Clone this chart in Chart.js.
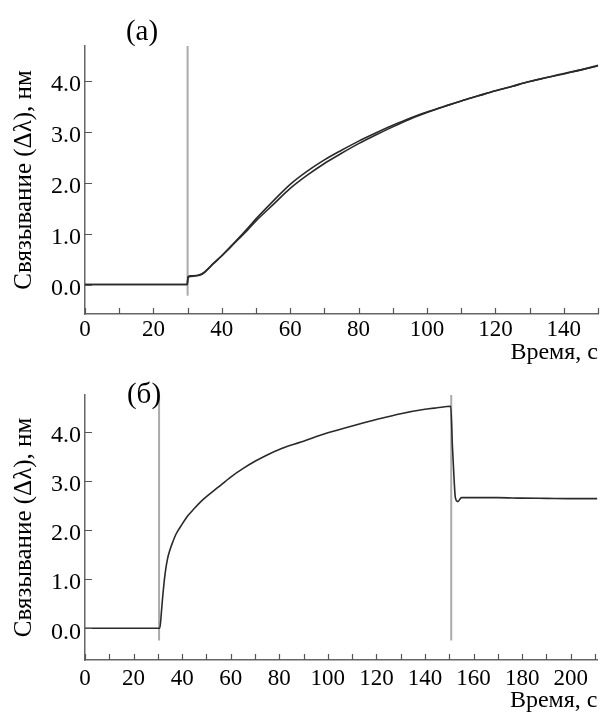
<!DOCTYPE html>
<html>
<head>
<meta charset="utf-8">
<script src="https://cdn.jsdelivr.net/npm/chart.js@4.4.1/dist/chart.umd.min.js"></script>
<style>
  body { margin: 0; background: #fff; }
  #wrap { position: relative; width: 600px; height: 716px; }
  canvas { position: absolute; left: 0; }
  #chartA { top: 0; }
  #chartB { top: 360px; }
</style>
</head>
<body>
<div id="wrap">
  <canvas id="chartA" width="600" height="372"></canvas>
  <canvas id="chartB" width="600" height="356"></canvas>
</div>
<script>
// (а) две кривые связывания
const tiempoA = [0, 29.9, 30.1, 31, 33.5, 35, 37.5, 40, 42.5, 45, 47.5, 50, 55, 60, 65, 70, 75, 80, 85, 90, 95, 100, 105, 110, 115, 120, 125, 130, 135, 140, 145, 150];
const curvaA1 = [0, 0, 0.13, 0.16, 0.18, 0.24, 0.41, 0.57, 0.74, 0.92, 1.10, 1.29, 1.64, 1.97, 2.23, 2.45, 2.64, 2.82, 2.98, 3.13, 3.27, 3.39, 3.50, 3.61, 3.71, 3.81, 3.90, 3.99, 4.07, 4.14, 4.22, 4.30];
const curvaA2 = [0, 0, 0.15, 0.17, 0.19, 0.25, 0.41, 0.56, 0.73, 0.90, 1.07, 1.25, 1.57, 1.89, 2.15, 2.38, 2.58, 2.77, 2.94, 3.10, 3.25, 3.38, 3.50, 3.61, 3.71, 3.81, 3.90, 3.99, 4.07, 4.15, 4.22, 4.31];
const marcasA = [30];

// (б) одна кривая: ассоциация и диссоциация
const tiempoB = [0, 30.8, 31.5, 32, 33, 34, 35, 36, 37.5, 40, 42.5, 45, 47.5, 50, 55, 60, 65, 70, 75, 80, 85, 90, 95, 100, 110, 120, 130, 140, 145, 150.6, 151.3, 152, 152.5, 153.5, 155, 160, 170, 180, 190, 200, 211];
const curvaB = [0, 0, 0.35, 0.65, 1.12, 1.42, 1.6, 1.74, 1.92, 2.12, 2.3, 2.44, 2.57, 2.68, 2.88, 3.08, 3.25, 3.40, 3.53, 3.64, 3.73, 3.81, 3.90, 3.98, 4.12, 4.25, 4.37, 4.46, 4.49, 4.52, 3.70, 3.02, 2.66, 2.58, 2.66, 2.66, 2.66, 2.65, 2.645, 2.64, 2.64];
const marcasB = [30.5, 150.8];

const ticksXA = [0, 10, 20, 30, 40, 50, 60, 70, 80, 90, 100, 110, 120, 130, 140, 150];
const ticksXB = [0, 10, 20, 30, 40, 50, 60, 70, 80, 90, 100, 110, 120, 130, 140, 150, 160, 170, 180, 190, 200, 210];
const ticksY = [0, 0.5, 1, 1.5, 2, 2.5, 3, 3.5, 4, 4.5];

const fuente = "'Liberation Serif', 'Times New Roman', serif";

function puntos(xs, ys) {
    return xs.map((x, i) => ({ x: x, y: ys[i] }));
}

function lineaVertical(x, y0, y1) {
    return {
        data: [{ x: x, y: y0 }, { x: x, y: y1 }],
        borderColor: '#aaaaaa',
        borderWidth: 2,
        pointRadius: 0,
        tension: 0
    };
}

function curva(xs, ys) {
    return {
        data: puntos(xs, ys),
        borderColor: '#2a2a2a',
        borderWidth: 1.6,
        pointRadius: 0,
        cubicInterpolationMode: 'monotone'
    };
}

// marcas de escala hacia dentro
const ticksInternos = {
    id: 'ticksInternos',
    afterDraw(chart) {
        const { ctx, chartArea, scales: { x, y } } = chart;
        ctx.save();
        ctx.strokeStyle = '#555';
        ctx.lineWidth = 1.2;
        ctx.beginPath();
        x.ticks.forEach(t => {
            const px = Math.round(x.getPixelForValue(t.value)) + 0.5;
            ctx.moveTo(px, chartArea.bottom);
            ctx.lineTo(px, chartArea.bottom - 6);
        });
        y.ticks.forEach(t => {
            const py = Math.round(y.getPixelForValue(t.value)) + 0.5;
            ctx.moveTo(chartArea.left, py);
            ctx.lineTo(chartArea.left + 7, py);
        });
        ctx.stroke();
        ctx.restore();
    }
};

const etiquetaPanel = {
    id: 'etiquetaPanel',
    afterDraw(chart, args, opts) {
        const ctx = chart.ctx;
        ctx.save();
        ctx.font = '29px ' + fuente;
        ctx.fillStyle = '#000';
        ctx.textAlign = 'center';
        ctx.textBaseline = 'middle';
        ctx.fillText(opts.text, opts.x, opts.y);
        ctx.restore();
    }
};

function generarGrafica(canvasId, cfg) {
    const ctx = document.getElementById(canvasId).getContext('2d');
    return new Chart(ctx, {
        type: 'line',
        data: { datasets: cfg.datasets },
        options: {
            responsive: false,
            animation: false,
            layout: { padding: { left: 0, right: 2, top: cfg.top, bottom: 0 } },
            plugins: {
                legend: { display: false },
                tooltip: { enabled: false },
                etiquetaPanel: cfg.label
            },
            scales: {
                x: {
                    type: 'linear',
                    min: 0,
                    max: cfg.xMax,
                    grid: { display: false, drawTicks: false },
                    border: { display: true, color: '#666', width: 1.5 },
                    afterBuildTicks: s => { s.ticks = cfg.xTicks.map(v => ({ value: v })); },
                    afterFit: s => { s.height = cfg.xHeight; },
                    ticks: {
                        autoSkip: false,
                        maxRotation: 0,
                        padding: cfg.xPad,
                        color: '#000',
                        font: { family: fuente, size: 23 },
                        callback: v => (v % 20 === 0 ? String(v) : '')
                    },
                    title: {
                        display: true,
                        text: 'Время, с',
                        align: 'end',
                        color: '#000',
                        font: { family: fuente, size: 24 },
                        padding: { top: 0, bottom: cfg.titlePad }
                    }
                },
                y: {
                    type: 'linear',
                    min: cfg.yMin,
                    max: cfg.yMax,
                    grid: { display: false, drawTicks: false },
                    border: { display: true, color: '#666', width: 1.5 },
                    afterBuildTicks: s => { s.ticks = ticksY.map(v => ({ value: v })); },
                    afterFit: s => { s.width = 85; },
                    ticks: {
                        padding: 4,
                        labelOffset: 4,
                        color: '#000',
                        font: { family: fuente, size: 24 },
                        callback: v => (Number.isInteger(v) ? v.toFixed(1) : '')
                    },
                    title: {
                        display: true,
                        text: 'Связывание (Δλ), нм',
                        color: '#000',
                        font: { family: fuente, size: 25 },
                        padding: { top: 9, bottom: 0 }
                    }
                }
            }
        },
        plugins: [ticksInternos, etiquetaPanel]
    });
}

generarGrafica('chartA', {
    datasets: [
        curva(tiempoA, curvaA1),
        curva(tiempoA, curvaA2),
        ...marcasA.map(m => lineaVertical(m, -0.22, 4.69))
    ],
    xMax: 150,
    xTicks: ticksXA,
    yMin: -0.58,
    yMax: 4.69,
    top: 46,
    xHeight: 58,
    xPad: 2,
    titlePad: 5,
    label: { text: '(a)', x: 142, y: 32 }
});

generarGrafica('chartB', {
    datasets: [
        curva(tiempoB, curvaB),
        ...marcasB.map(m => lineaVertical(m, -0.25, 4.75))
    ],
    xMax: 211,
    xTicks: ticksXB,
    yMin: -0.645,
    yMax: 4.75,
    top: 35,
    xHeight: 56,
    xPad: 5,
    titlePad: 1,
    label: { text: '(б)', x: 144, y: 35 }
});
</script>
</body>
</html>
